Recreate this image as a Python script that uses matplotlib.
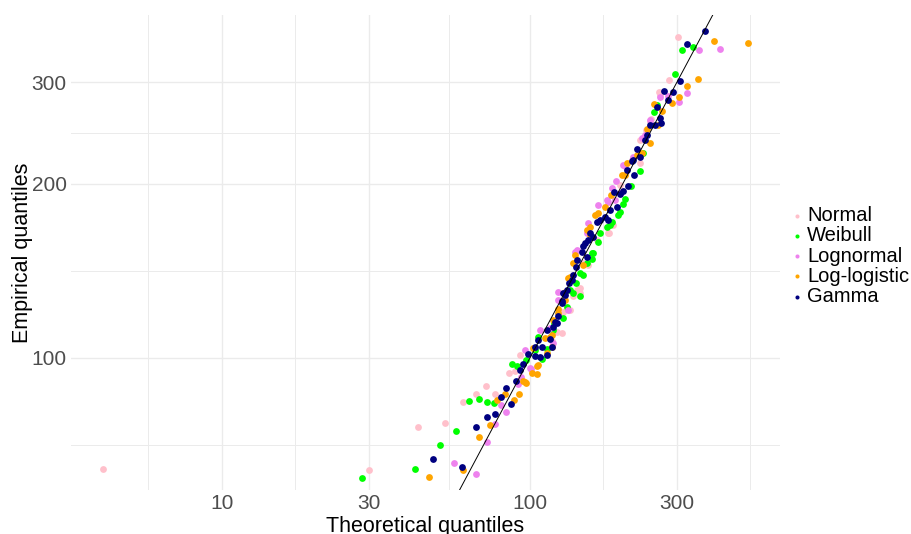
import numpy as np
import matplotlib.pyplot as plt

plt.rcParams['font.family'] = ['Liberation Sans', 'DejaVu Sans']

# theoretical (x) and empirical (y) quantiles
normal_x = [4.1, 30.0, 43.3, 53.0, 60.6, 66.8, 72.0, 77.0, 85.5, 89.4, 92.8, 102.0,
            117.6, 122.0, 126.8, 128.3, 134.9, 138.3, 141.9, 145.2, 145.2, 148.9,
            154.5, 164.9, 179.5, 181.0, 186.3, 195.9, 215.2, 227.6, 227.6, 238.0,
            245.3, 246.5, 262.8, 264.0, 283.0, 302.0]
normal_y = [64.2, 64.0, 76.0, 77.2, 84.0, 86.6, 89.5, 86.6, 94.2, 95.0, 101.2, 104.0,
            106.8, 110.9, 110.3, 120.2, 121.1, 127.9, 131.1, 132.1, 129.4, 145.9,
            144.9, 160.1, 164.3, 164.3, 169.9, 199.0, 220.2, 238.4, 217.3, 248.1,
            256.5, 259.2, 288.6, 285.0, 303.0, 359.0]

weibull_x = [28.5, 42.4, 51.1, 57.5, 63.4, 68.3, 72.5, 76.4, 87.4, 90.8, 97.0, 103.8,
             106.2, 109.3, 113.8, 119.1, 119.7, 128.0, 131.6, 134.9, 138.3, 141.0,
             145.2, 145.2, 148.3, 152.7, 158.5, 158.5, 160.6, 165.8, 168.7, 177.4,
             181.9, 184.6, 193.6, 195.9, 200.0, 203.8, 213.0, 227.6, 233.3, 252.9,
             257.8, 295.6, 311.3, 339.0]
weibull_y = [62.0, 64.2, 70.7, 74.8, 84.3, 84.8, 84.0, 83.6, 97.6, 96.7, 99.2, 103.2,
             108.7, 99.6, 103.5, 111.8, 115.1, 117.2, 122.6, 131.1, 129.4, 134.6,
             128.0, 140.2, 139.2, 145.8, 148.6, 151.7, 151.7, 158.8, 164.3, 168.7,
             169.9, 171.6, 176.8, 179.1, 184.6, 188.4, 198.0, 210.9, 226.0, 266.8,
             274.1, 310.4, 340.4, 344.5]

lognormal_x = [56.6, 66.8, 72.5, 77.0, 80.5, 83.6, 91.4, 93.5, 96.3, 100.0, 100.7,
               107.8, 116.1, 118.8, 123.3, 123.3, 133.2, 139.8, 141.9, 152.7, 154.5,
               166.4, 177.4, 179.5, 184.6, 188.9, 190.9, 195.9, 200.8, 203.3, 216.0,
               230.5, 236.3, 245.3, 264.3, 281.0, 304.8, 324.5, 354.0, 413.8]
lognormal_y = [65.8, 63.0, 71.6, 76.8, 83.0, 80.7, 90.2, 92.6, 103.2, 96.0, 95.7,
               111.8, 112.6, 106.0, 126.0, 130.1, 121.1, 152.8, 153.8, 164.3, 171.0,
               184.0, 187.7, 186.3, 197.0, 187.7, 202.0, 192.7, 215.9, 214.4, 222.6,
               239.9, 243.2, 258.2, 282.7, 283.6, 277.7, 287.3, 341.1, 342.6]

loglogistic_x = [47.0, 60.6, 68.3, 74.1, 78.1, 83.0, 88.7, 92.1, 94.9, 96.3, 97.0,
                 101.7, 102.5, 105.4, 105.6, 106.4, 111.9, 113.2, 116.1, 116.1, 117.6,
                 117.6, 119.1, 123.3, 123.3, 129.9, 129.9, 133.2, 134.9, 138.3, 140.0,
                 148.9, 152.8, 156.5, 156.5, 162.5, 166.5, 174.6, 183.7, 198.3, 203.3,
                 206.1, 222.8, 230.5, 240.6, 245.3, 252.3, 261.0, 268.4, 289.5, 304.0,
                 322.3, 350.0, 395.7, 509.3]
loglogistic_y = [62.3, 64.0, 73.0, 76.6, 84.6, 86.6, 84.6, 86.6, 91.2, 91.0, 90.6,
                 94.1, 103.9, 93.8, 96.9, 97.3, 108.1, 101.9, 108.2, 108.9, 109.6,
                 104.6, 116.3, 119.5, 121.4, 126.0, 130.3, 137.4, 138.3, 145.8, 150.8,
                 144.9, 166.5, 163.3, 168.7, 176.8, 178.0, 182.6, 191.5, 207.4, 207.4,
                 217.3, 224.6, 226.0, 249.4, 235.3, 275.2, 253.1, 267.3, 276.6, 282.5,
                 295.6, 303.6, 353.3, 350.6]

gamma_x = [48.4, 60.1, 66.8, 72.5, 77.0, 80.5, 83.6, 86.7, 90.1, 92.8, 94.9, 98.5,
           103.8, 103.8, 106.4, 107.8, 109.1, 113.2, 113.5, 116.1, 117.6, 118.8, 120.5,
           122.1, 123.3, 126.8, 127.0, 128.3, 129.9, 131.8, 133.8, 136.5, 138.0, 140.9,
           142.0, 147.4, 148.9, 150.8, 152.8, 154.2, 156.5, 160.2, 164.9, 168.7, 174.6,
           179.6, 181.9, 188.0, 192.0, 195.9, 200.9, 206.0, 207.8, 215.0, 216.2, 217.0,
           223.0, 227.6, 236.3, 239.2, 245.3, 254.6, 258.9, 264.3, 266.0, 272.5, 281.0,
           291.0, 306.9, 323.0, 369.9]
gamma_y = [66.8, 64.8, 76.0, 79.1, 80.0, 85.6, 88.7, 83.4, 91.2, 95.3, 97.6, 101.6,
           100.8, 104.6, 107.4, 100.4, 104.6, 111.8, 101.2, 107.8, 104.6, 113.1, 115.4,
           114.8, 118.2, 124.4, 125.5, 129.4, 128.5, 131.1, 134.9, 136.5, 139.2, 143.4,
           147.8, 152.6, 155.9, 158.2, 149.6, 160.1, 164.3, 162.0, 172.1, 173.3, 175.5,
           173.3, 180.4, 193.8, 182.5, 192.5, 194.1, 211.6, 198.0, 219.0, 220.2, 207.4,
           229.9, 223.0, 238.4, 243.2, 253.1, 253.1, 272.0, 260.0, 255.0, 289.8, 279.6,
           288.0, 301.7, 349.5, 368.1]

series = [
    ("Normal", normal_x, normal_y, "pink"),
    ("Weibull", weibull_x, weibull_y, "#00ff00"),
    ("Lognormal", lognormal_x, lognormal_y, "violet"),
    ("Log-logistic", loglogistic_x, loglogistic_y, "orange"),
    ("Gamma", gamma_x, gamma_y, "navy"),
]

x_breaks = [10, 30, 100, 300]
y_breaks = [100, 200, 300]
x_minor = [5.77, 17.3, 54.8, 173.2, 519.6]
y_minor = [70.7, 141.4, 244.9]

fig = plt.figure(figsize=(9.12, 5.34), dpi=100)
ax = fig.add_axes([71/912, 44/534, 709/912, 475/534])

for lab, xs, ys, col in series:
    ax.scatter(xs, ys, s=24, color=col, linewidths=0, label=lab, zorder=3)

ref = np.array([1, 1000])
ax.plot(ref, ref, color='black', lw=0.7, zorder=4)

ax.set_xscale('log')
ax.set_yscale('log')
ax.set_xlim(3.24, 648)
ax.set_ylim(59.1, 392)

ax.set_xticks(x_breaks)
ax.set_xticklabels([str(v) for v in x_breaks])
ax.set_yticks(y_breaks)
ax.set_yticklabels([str(v) for v in y_breaks])
ax.set_xticks(x_minor, minor=True)
ax.set_yticks(y_minor, minor=True)
ax.xaxis.set_minor_formatter(plt.NullFormatter())
ax.yaxis.set_minor_formatter(plt.NullFormatter())

ax.tick_params(which='both', length=0)
ax.tick_params(axis='both', labelsize=15, labelcolor='#4d4d4d', pad=3)
ax.grid(which='major', color='#ebebeb', lw=1.0)
ax.grid(which='minor', color='#ebebeb', lw=0.7)
ax.set_axisbelow(True)
for s in ax.spines.values():
    s.set_visible(False)

ax.set_xlabel('Theoretical quantiles', fontsize=15.5, labelpad=2)
ax.set_ylabel('Empirical quantiles', fontsize=15.5, labelpad=-1)

leg = ax.legend(loc='center left', bbox_to_anchor=(773/912, (534 - 256)/534),
                bbox_transform=fig.transFigure, frameon=False, fontsize=14.5,
                handletextpad=0.0, labelspacing=0.06, markerscale=0.6,
                handlelength=1.0, borderpad=0.2)

fig.savefig('out.png', dpi=100)
